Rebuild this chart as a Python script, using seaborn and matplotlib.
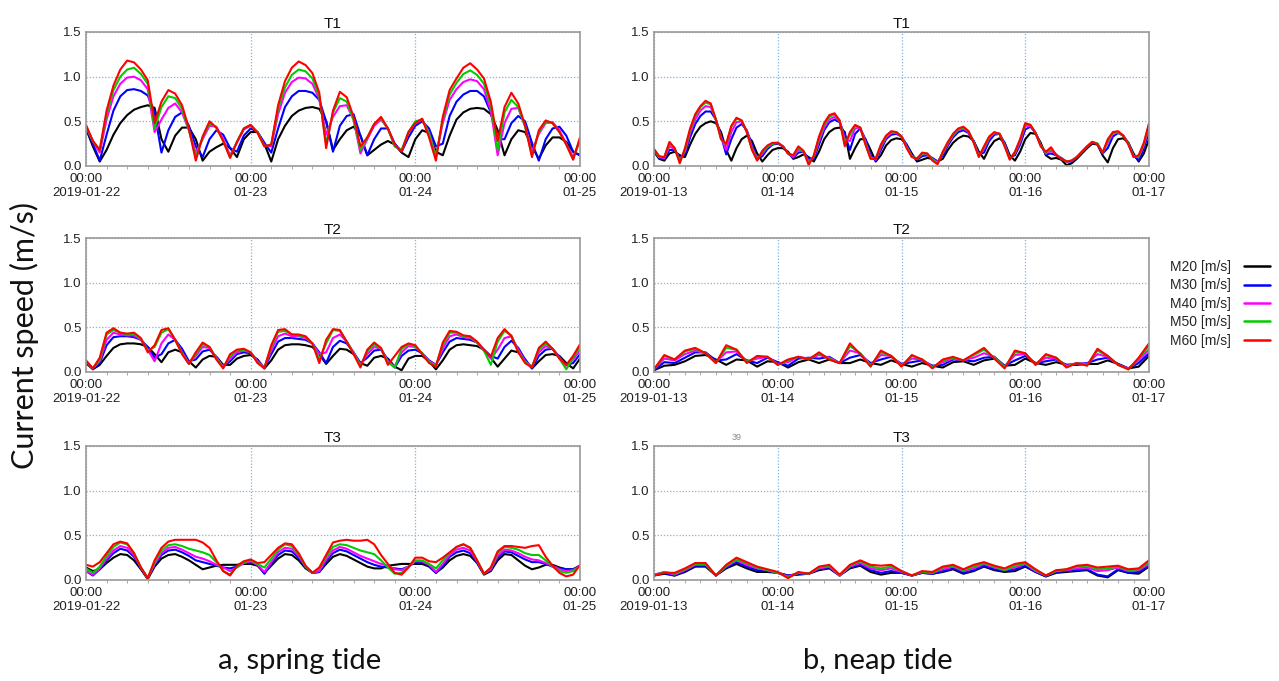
import numpy as np
import pandas as pd
import matplotlib
matplotlib.use("Agg")
import matplotlib.pyplot as plt
import matplotlib.dates as mdates
from matplotlib.lines import Line2D
import seaborn as sns

# ---------------- data ----------------
SERIES = ["M20 [m/s]", "M30 [m/s]", "M40 [m/s]", "M50 [m/s]", "M60 [m/s]"]
COLORS = ["#000000", "#0000ff", "#ff00ff", "#00cc00", "#ff0000"]
TITLES = ["T1", "T2", "T3"]
SPRING_START, SPRING_END = "2019-01-22 00:00", "2019-01-25 00:00"
NEAP_START, NEAP_END = "2019-01-13 00:00", "2019-01-17 00:00"
BOTTOM_LABELS = ["a, spring tide", "b, neap tide"]
YTICKS = [0.0, 0.5, 1.0, 1.5]

# spring tide, hourly values (2019-01-22 00:00 .. 2019-01-25 00:00)
SP_T1_M20 = [0.42,0.22,0.05,0.18,0.35,0.48,0.57,0.63,0.66,0.68,
             0.65,0.30,0.16,0.34,0.43,0.43,0.30,0.06,0.16,0.21,
             0.25,0.20,0.10,0.30,0.38,0.38,0.25,0.05,0.30,0.45,
             0.56,0.62,0.65,0.66,0.64,0.50,0.18,0.30,0.40,0.44,
             0.34,0.12,0.18,0.24,0.28,0.24,0.15,0.10,0.30,0.40,
             0.37,0.16,0.12,0.34,0.52,0.60,0.64,0.65,0.64,0.58,
             0.40,0.12,0.30,0.40,0.38,0.22,0.08,0.23,0.32,0.32,
             0.27,0.16,0.12]
SP_T1_M30 = [0.42,0.25,0.06,0.35,0.62,0.78,0.85,0.86,0.84,0.79,
             0.60,0.15,0.40,0.55,0.60,0.45,0.22,0.10,0.30,0.40,
             0.35,0.20,0.16,0.34,0.42,0.38,0.26,0.15,0.42,0.66,
             0.78,0.84,0.84,0.82,0.74,0.50,0.16,0.45,0.56,0.58,
             0.34,0.12,0.30,0.42,0.42,0.25,0.16,0.32,0.45,0.50,
             0.42,0.22,0.25,0.56,0.72,0.80,0.84,0.84,0.78,0.60,
             0.30,0.30,0.48,0.56,0.50,0.26,0.06,0.30,0.42,0.44,
             0.34,0.16,0.12]
SP_T1_M40 = [0.44,0.28,0.15,0.52,0.78,0.92,0.99,1.00,0.96,0.86,
             0.38,0.52,0.65,0.70,0.60,0.40,0.15,0.30,0.45,0.44,
             0.30,0.12,0.26,0.41,0.45,0.38,0.23,0.22,0.58,0.82,
             0.94,0.99,0.98,0.92,0.75,0.35,0.55,0.67,0.68,0.52,
             0.14,0.30,0.45,0.52,0.42,0.22,0.17,0.37,0.48,0.52,
             0.37,0.12,0.48,0.74,0.86,0.94,0.97,0.95,0.86,0.62,
             0.12,0.48,0.64,0.65,0.45,0.16,0.36,0.48,0.49,0.40,
             0.25,0.10,0.28]
SP_T1_M50 = [0.44,0.28,0.18,0.58,0.85,1.00,1.08,1.10,1.03,0.92,
             0.42,0.66,0.78,0.76,0.64,0.40,0.10,0.32,0.48,0.43,
             0.28,0.10,0.27,0.42,0.46,0.38,0.22,0.24,0.64,0.88,
             1.02,1.08,1.06,0.98,0.78,0.25,0.60,0.76,0.72,0.52,
             0.18,0.32,0.47,0.53,0.42,0.22,0.18,0.38,0.50,0.52,
             0.36,0.10,0.52,0.80,0.93,1.03,1.07,1.02,0.92,0.68,
             0.18,0.60,0.74,0.66,0.44,0.12,0.38,0.50,0.48,0.38,
             0.24,0.08,0.30]
SP_T1_M60 = [0.46,0.28,0.18,0.62,0.90,1.08,1.18,1.16,1.08,0.96,
             0.48,0.72,0.85,0.81,0.68,0.42,0.06,0.33,0.50,0.43,
             0.28,0.09,0.27,0.42,0.46,0.37,0.22,0.24,0.68,0.95,
             1.10,1.17,1.13,1.04,0.82,0.20,0.62,0.83,0.77,0.55,
             0.22,0.32,0.47,0.55,0.42,0.24,0.16,0.38,0.48,0.53,
             0.32,0.06,0.55,0.85,0.98,1.10,1.15,1.08,0.98,0.72,
             0.28,0.66,0.82,0.70,0.45,0.10,0.40,0.51,0.48,0.38,
             0.24,0.07,0.32]

SP_T2_M20 = [0.10,0.03,0.08,0.18,0.27,0.31,0.32,0.32,0.31,0.28,
             0.20,0.11,0.22,0.25,0.22,0.12,0.05,0.14,0.18,0.17,
             0.08,0.08,0.15,0.18,0.19,0.14,0.04,0.13,0.25,0.30,
             0.31,0.31,0.30,0.28,0.20,0.09,0.18,0.26,0.25,0.20,
             0.10,0.07,0.16,0.18,0.15,0.06,0.02,0.15,0.18,0.18,
             0.12,0.03,0.13,0.25,0.30,0.31,0.30,0.29,0.25,0.16,
             0.06,0.15,0.24,0.22,0.14,0.04,0.12,0.19,0.20,0.18,
             0.10,0.04,0.15]
SP_T2_M30 = [0.11,0.04,0.10,0.30,0.39,0.40,0.40,0.39,0.36,0.28,
             0.16,0.20,0.32,0.36,0.26,0.12,0.14,0.23,0.25,0.17,
             0.06,0.12,0.20,0.22,0.21,0.13,0.05,0.20,0.34,0.38,
             0.38,0.37,0.36,0.32,0.22,0.10,0.28,0.35,0.32,0.22,
             0.10,0.16,0.24,0.25,0.14,0.05,0.18,0.24,0.25,0.21,
             0.13,0.08,0.22,0.34,0.38,0.37,0.36,0.33,0.25,0.18,
             0.15,0.28,0.35,0.27,0.14,0.04,0.18,0.25,0.26,0.17,
             0.08,0.10,0.20]
SP_T2_M40 = [0.12,0.04,0.12,0.36,0.44,0.42,0.41,0.41,0.36,0.25,
             0.12,0.32,0.42,0.36,0.22,0.10,0.18,0.28,0.27,0.16,
             0.06,0.15,0.22,0.24,0.22,0.12,0.05,0.24,0.40,0.43,
             0.40,0.40,0.38,0.32,0.20,0.22,0.38,0.42,0.34,0.22,
             0.08,0.20,0.28,0.26,0.12,0.06,0.22,0.29,0.28,0.21,
             0.12,0.08,0.26,0.40,0.42,0.39,0.38,0.33,0.24,0.15,
             0.25,0.38,0.40,0.25,0.12,0.06,0.22,0.29,0.26,0.16,
             0.07,0.14,0.24]
SP_T2_M50 = [0.12,0.04,0.14,0.42,0.47,0.44,0.42,0.43,0.37,0.24,
             0.28,0.44,0.48,0.36,0.21,0.09,0.20,0.31,0.28,0.15,
             0.05,0.18,0.24,0.25,0.22,0.11,0.05,0.28,0.45,0.46,
             0.42,0.41,0.39,0.32,0.14,0.32,0.47,0.46,0.34,0.21,
             0.07,0.23,0.31,0.26,0.11,0.05,0.26,0.31,0.29,0.21,
             0.11,0.07,0.30,0.44,0.44,0.40,0.39,0.33,0.24,0.08,
             0.34,0.46,0.41,0.23,0.11,0.06,0.25,0.32,0.26,0.15,
             0.03,0.16,0.28]
SP_T2_M60 = [0.13,0.04,0.16,0.44,0.49,0.44,0.43,0.44,0.38,0.22,
             0.30,0.47,0.49,0.36,0.20,0.09,0.22,0.33,0.28,0.14,
             0.04,0.20,0.25,0.26,0.22,0.10,0.04,0.30,0.47,0.48,
             0.42,0.42,0.40,0.32,0.10,0.36,0.48,0.47,0.34,0.20,
             0.05,0.25,0.33,0.27,0.08,0.18,0.28,0.32,0.30,0.20,
             0.10,0.06,0.33,0.46,0.45,0.41,0.40,0.34,0.25,0.17,
             0.38,0.48,0.40,0.22,0.10,0.05,0.27,0.34,0.26,0.15,
             0.08,0.18,0.31]

SP_T3_M20 = [0.14,0.10,0.12,0.19,0.25,0.29,0.28,0.22,0.12,0.01,
             0.15,0.24,0.28,0.29,0.26,0.22,0.17,0.12,0.14,0.16,
             0.17,0.17,0.17,0.18,0.18,0.16,0.08,0.16,0.24,0.29,
             0.28,0.22,0.13,0.08,0.09,0.18,0.26,0.29,0.27,0.23,
             0.19,0.15,0.13,0.13,0.16,0.17,0.18,0.18,0.18,0.18,
             0.15,0.08,0.14,0.22,0.27,0.29,0.27,0.19,0.06,0.10,
             0.22,0.29,0.28,0.22,0.16,0.12,0.14,0.17,0.17,0.14,
             0.12,0.12,0.16]
SP_T3_M30 = [0.10,0.05,0.12,0.22,0.30,0.35,0.33,0.26,0.13,0.02,
             0.17,0.28,0.33,0.34,0.31,0.27,0.22,0.20,0.18,0.16,
             0.14,0.13,0.15,0.19,0.20,0.17,0.07,0.18,0.28,0.33,
             0.32,0.25,0.14,0.08,0.09,0.21,0.30,0.34,0.32,0.28,
             0.24,0.20,0.17,0.15,0.14,0.13,0.12,0.15,0.20,0.20,
             0.16,0.08,0.16,0.26,0.31,0.33,0.30,0.20,0.07,0.11,
             0.25,0.32,0.31,0.27,0.23,0.20,0.20,0.18,0.15,0.13,
             0.12,0.12,0.16]
SP_T3_M40 = [0.10,0.06,0.13,0.24,0.33,0.38,0.36,0.28,0.14,0.02,
             0.18,0.30,0.36,0.37,0.34,0.30,0.26,0.24,0.21,0.17,
             0.14,0.10,0.14,0.19,0.21,0.17,0.09,0.20,0.31,0.36,
             0.35,0.27,0.15,0.08,0.10,0.23,0.33,0.37,0.35,0.31,
             0.27,0.24,0.21,0.18,0.16,0.12,0.11,0.15,0.21,0.21,
             0.17,0.09,0.18,0.28,0.34,0.36,0.33,0.21,0.07,0.12,
             0.27,0.34,0.33,0.30,0.26,0.23,0.22,0.19,0.16,0.12,
             0.10,0.11,0.16]
SP_T3_M50 = [0.13,0.08,0.15,0.27,0.37,0.42,0.40,0.30,0.14,0.02,
             0.20,0.33,0.39,0.40,0.38,0.35,0.33,0.31,0.28,0.20,
             0.10,0.06,0.15,0.20,0.22,0.18,0.14,0.24,0.34,0.40,
             0.38,0.29,0.15,0.08,0.13,0.26,0.37,0.40,0.39,0.36,
             0.33,0.31,0.29,0.22,0.14,0.07,0.08,0.15,0.22,0.22,
             0.18,0.13,0.22,0.30,0.37,0.40,0.36,0.22,0.07,0.13,
             0.30,0.37,0.36,0.34,0.30,0.28,0.28,0.22,0.15,0.10,
             0.08,0.10,0.16]
SP_T3_M60 = [0.17,0.15,0.20,0.30,0.40,0.43,0.41,0.30,0.14,0.02,
             0.22,0.36,0.43,0.45,0.45,0.45,0.45,0.42,0.36,0.22,
             0.10,0.05,0.16,0.21,0.23,0.19,0.20,0.28,0.36,0.41,
             0.40,0.30,0.16,0.08,0.14,0.28,0.42,0.44,0.45,0.44,
             0.44,0.45,0.40,0.28,0.18,0.08,0.06,0.14,0.25,0.25,
             0.21,0.20,0.25,0.31,0.37,0.40,0.36,0.22,0.07,0.14,
             0.32,0.38,0.38,0.37,0.36,0.38,0.39,0.26,0.16,0.08,
             0.04,0.06,0.17]

# neap tide T1, hourly values (2019-01-13 00:00 .. 2019-01-17 00:00)
NP_T1_M20 = [0.16,0.08,0.06,0.14,0.16,0.12,0.10,0.24,0.36,0.44,
             0.48,0.50,0.48,0.38,0.18,0.06,0.20,0.30,0.34,0.28,
             0.14,0.05,0.12,0.18,0.20,0.20,0.16,0.08,0.10,0.13,
             0.10,0.05,0.16,0.30,0.38,0.42,0.43,0.38,0.08,0.20,
             0.30,0.30,0.18,0.05,0.12,0.23,0.29,0.31,0.30,0.24,
             0.14,0.05,0.07,0.09,0.08,0.05,0.08,0.18,0.26,0.31,
             0.34,0.33,0.28,0.16,0.08,0.20,0.28,0.31,0.26,0.12,
             0.06,0.16,0.30,0.37,0.36,0.26,0.12,0.08,0.09,0.07,
             0.01,0.03,0.08,0.14,0.20,0.25,0.24,0.12,0.04,0.20,
             0.30,0.31,0.26,0.14,0.05,0.14,0.30]
NP_T1_M30 = [0.17,0.09,0.08,0.18,0.18,0.09,0.13,0.32,0.47,0.56,
             0.61,0.61,0.52,0.34,0.13,0.30,0.43,0.47,0.40,0.24,
             0.08,0.11,0.19,0.24,0.25,0.22,0.14,0.09,0.15,0.16,
             0.08,0.08,0.24,0.40,0.49,0.52,0.49,0.35,0.18,0.36,
             0.42,0.30,0.12,0.06,0.18,0.30,0.35,0.36,0.33,0.24,
             0.12,0.07,0.11,0.12,0.09,0.05,0.12,0.23,0.32,0.38,
             0.40,0.37,0.28,0.13,0.15,0.28,0.35,0.36,0.26,0.10,
             0.12,0.24,0.41,0.44,0.37,0.24,0.13,0.14,0.12,0.09,
             0.05,0.05,0.09,0.15,0.21,0.26,0.25,0.14,0.20,0.33,
             0.37,0.34,0.26,0.12,0.06,0.20,0.38]
NP_T1_M40 = [0.18,0.10,0.09,0.22,0.19,0.07,0.16,0.37,0.52,0.62,
             0.67,0.66,0.52,0.32,0.18,0.38,0.49,0.50,0.39,0.21,
             0.08,0.14,0.21,0.25,0.26,0.22,0.14,0.10,0.18,0.16,
             0.05,0.10,0.28,0.43,0.52,0.55,0.50,0.30,0.28,0.42,
             0.43,0.27,0.10,0.07,0.21,0.32,0.37,0.37,0.33,0.22,
             0.11,0.08,0.13,0.13,0.08,0.04,0.14,0.25,0.34,0.40,
             0.42,0.38,0.27,0.12,0.19,0.31,0.37,0.36,0.24,0.08,
             0.14,0.27,0.45,0.45,0.37,0.23,0.14,0.17,0.13,0.08,
             0.05,0.06,0.10,0.16,0.22,0.27,0.25,0.15,0.26,0.36,
             0.38,0.34,0.25,0.11,0.10,0.23,0.43]
NP_T1_M50 = [0.18,0.10,0.10,0.25,0.20,0.05,0.18,0.40,0.56,0.66,
             0.71,0.69,0.52,0.30,0.24,0.44,0.53,0.51,0.38,0.19,
             0.07,0.16,0.22,0.25,0.26,0.22,0.14,0.12,0.20,0.16,
             0.03,0.11,0.31,0.46,0.55,0.58,0.51,0.25,0.35,0.45,
             0.43,0.25,0.09,0.08,0.23,0.33,0.38,0.38,0.33,0.21,
             0.11,0.08,0.14,0.14,0.07,0.03,0.15,0.26,0.35,0.41,
             0.43,0.39,0.27,0.11,0.21,0.32,0.37,0.36,0.23,0.08,
             0.15,0.29,0.47,0.46,0.37,0.23,0.15,0.19,0.13,0.08,
             0.05,0.06,0.10,0.16,0.22,0.27,0.25,0.15,0.28,0.37,
             0.38,0.34,0.25,0.11,0.11,0.25,0.46]
NP_T1_M60 = [0.19,0.11,0.10,0.27,0.20,0.03,0.20,0.42,0.58,0.67,
             0.73,0.70,0.52,0.30,0.25,0.45,0.54,0.51,0.38,0.18,
             0.06,0.17,0.23,0.26,0.26,0.22,0.14,0.12,0.22,0.17,
             0.01,0.12,0.33,0.48,0.57,0.59,0.51,0.22,0.38,0.46,
             0.43,0.24,0.08,0.08,0.24,0.34,0.39,0.38,0.33,0.20,
             0.10,0.08,0.15,0.14,0.06,0.02,0.16,0.27,0.36,0.42,
             0.44,0.39,0.26,0.10,0.22,0.33,0.38,0.36,0.22,0.07,
             0.16,0.30,0.48,0.46,0.37,0.22,0.16,0.21,0.12,0.08,
             0.05,0.06,0.10,0.16,0.22,0.27,0.24,0.15,0.30,0.38,
             0.39,0.34,0.24,0.10,0.12,0.26,0.48]

# neap tide T2 / T3, two-hourly values
NP_T2_M20 = [0.02,0.07,0.08,0.12,0.18,0.19,0.14,0.08,0.14,0.13,
             0.06,0.12,0.11,0.05,0.11,0.14,0.10,0.14,0.10,0.10,
             0.14,0.10,0.08,0.13,0.09,0.06,0.10,0.07,0.05,0.11,
             0.12,0.08,0.13,0.15,0.07,0.08,0.15,0.10,0.08,0.11,
             0.08,0.08,0.09,0.09,0.13,0.09,0.04,0.06,0.18]
NP_T2_M30 = [0.02,0.11,0.10,0.16,0.22,0.22,0.13,0.14,0.20,0.13,
             0.10,0.16,0.11,0.07,0.15,0.16,0.15,0.17,0.10,0.16,
             0.19,0.10,0.14,0.17,0.09,0.11,0.13,0.07,0.08,0.14,
             0.13,0.12,0.16,0.17,0.07,0.13,0.18,0.10,0.12,0.14,
             0.08,0.09,0.10,0.14,0.16,0.09,0.04,0.10,0.21]
NP_T2_M40 = [0.03,0.15,0.13,0.20,0.24,0.21,0.11,0.22,0.23,0.12,
             0.15,0.17,0.09,0.11,0.17,0.15,0.19,0.16,0.10,0.24,
             0.21,0.08,0.19,0.18,0.08,0.15,0.14,0.06,0.11,0.15,
             0.13,0.16,0.21,0.17,0.06,0.19,0.20,0.09,0.16,0.15,
             0.07,0.10,0.09,0.20,0.17,0.08,0.04,0.13,0.25]
NP_T2_M50 = [0.03,0.18,0.14,0.23,0.26,0.21,0.10,0.27,0.25,0.11,
             0.17,0.17,0.08,0.13,0.17,0.14,0.21,0.15,0.10,0.29,
             0.21,0.07,0.22,0.18,0.07,0.18,0.14,0.05,0.13,0.16,
             0.13,0.19,0.25,0.16,0.05,0.22,0.21,0.08,0.19,0.16,
             0.06,0.10,0.08,0.24,0.18,0.08,0.03,0.15,0.29]
NP_T2_M60 = [0.03,0.19,0.14,0.24,0.27,0.21,0.10,0.30,0.25,0.10,
             0.18,0.17,0.08,0.14,0.17,0.14,0.22,0.14,0.10,0.32,
             0.20,0.06,0.24,0.18,0.06,0.19,0.14,0.04,0.14,0.17,
             0.13,0.20,0.27,0.15,0.04,0.24,0.21,0.08,0.20,0.16,
             0.05,0.10,0.07,0.26,0.18,0.08,0.03,0.16,0.32]

NP_T3_M20 = [0.05,0.07,0.05,0.09,0.15,0.15,0.05,0.13,0.18,0.13,
             0.09,0.09,0.08,0.05,0.06,0.07,0.11,0.13,0.05,0.13,
             0.16,0.09,0.06,0.08,0.08,0.05,0.08,0.07,0.09,0.12,
             0.07,0.10,0.15,0.11,0.09,0.10,0.15,0.09,0.04,0.08,
             0.09,0.10,0.11,0.05,0.03,0.11,0.08,0.07,0.15]
NP_T3_M30 = [0.06,0.08,0.05,0.10,0.16,0.16,0.05,0.14,0.20,0.15,
             0.11,0.10,0.08,0.05,0.07,0.07,0.12,0.14,0.05,0.14,
             0.17,0.11,0.08,0.10,0.08,0.05,0.08,0.07,0.10,0.13,
             0.08,0.11,0.16,0.12,0.10,0.12,0.16,0.09,0.04,0.09,
             0.10,0.11,0.12,0.06,0.04,0.12,0.08,0.09,0.16]
NP_T3_M40 = [0.06,0.09,0.06,0.11,0.17,0.17,0.05,0.15,0.22,0.17,
             0.13,0.11,0.08,0.04,0.08,0.07,0.13,0.15,0.05,0.15,
             0.19,0.13,0.11,0.13,0.09,0.05,0.09,0.08,0.12,0.15,
             0.10,0.13,0.18,0.14,0.11,0.14,0.18,0.10,0.05,0.10,
             0.11,0.13,0.14,0.10,0.11,0.14,0.10,0.11,0.18]
NP_T3_M50 = [0.05,0.09,0.07,0.12,0.18,0.18,0.05,0.16,0.23,0.19,
             0.14,0.11,0.08,0.03,0.08,0.07,0.14,0.16,0.05,0.16,
             0.21,0.15,0.13,0.15,0.10,0.05,0.09,0.08,0.14,0.16,
             0.11,0.15,0.19,0.15,0.11,0.16,0.19,0.11,0.05,0.10,
             0.12,0.15,0.16,0.12,0.13,0.15,0.11,0.12,0.20]
NP_T3_M60 = [0.05,0.08,0.08,0.13,0.19,0.19,0.05,0.17,0.25,0.20,
             0.15,0.12,0.09,0.02,0.09,0.07,0.15,0.17,0.06,0.17,
             0.22,0.17,0.16,0.17,0.10,0.05,0.10,0.09,0.15,0.17,
             0.12,0.17,0.20,0.16,0.13,0.18,0.20,0.12,0.05,0.11,
             0.12,0.16,0.17,0.14,0.15,0.16,0.12,0.13,0.22]

# ---------------- styling ----------------
sns.set_style("white")
plt.rcParams["font.family"] = ["Liberation Sans", "DejaVu Sans"]

W, H = 1279, 681
fig = plt.figure(figsize=(W / 100, H / 100), dpi=100)

def frac_box(x0, x1, ytop, ybot):
    return [x0 / W, 1 - ybot / H, (x1 - x0) / W, (ybot - ytop) / H]

col_x = [(86, 580), (654, 1149)]
row_y = [(32, 166), (238, 372), (446, 580)]

panels = [
    (0, 0, SPRING_START, SPRING_END, "1h", [SP_T1_M20, SP_T1_M30, SP_T1_M40, SP_T1_M50, SP_T1_M60]),
    (0, 1, SPRING_START, SPRING_END, "1h", [SP_T2_M20, SP_T2_M30, SP_T2_M40, SP_T2_M50, SP_T2_M60]),
    (0, 2, SPRING_START, SPRING_END, "1h", [SP_T3_M20, SP_T3_M30, SP_T3_M40, SP_T3_M50, SP_T3_M60]),
    (1, 0, NEAP_START, NEAP_END, "1h", [NP_T1_M20, NP_T1_M30, NP_T1_M40, NP_T1_M50, NP_T1_M60]),
    (1, 1, NEAP_START, NEAP_END, "2h", [NP_T2_M20, NP_T2_M30, NP_T2_M40, NP_T2_M50, NP_T2_M60]),
    (1, 2, NEAP_START, NEAP_END, "2h", [NP_T3_M20, NP_T3_M30, NP_T3_M40, NP_T3_M50, NP_T3_M60]),
]

palette = dict(zip(SERIES, COLORS))
grid_color = "#7db4e6"
spine_color = "#9a9a9a"

for col, row, start, end, freq, lists in panels:
    x0, x1 = col_x[col]
    yt, yb = row_y[row]
    ax = fig.add_axes(frac_box(x0, x1, yt, yb))
    expected = len(pd.date_range(start, end, freq=freq))
    frames = []
    for name, vals in zip(SERIES, lists):
        assert len(vals) == expected, (start, row, name, len(vals), expected)
        t = pd.date_range(start, periods=len(vals), freq=freq)
        frames.append(pd.DataFrame({"time": t, "speed": vals, "series": name}))
    df = pd.concat(frames, ignore_index=True)
    sns.lineplot(data=df, x="time", y="speed", hue="series", hue_order=SERIES,
                 palette=palette, legend=False, ax=ax, linewidth=1.5,
                 estimator=None, sort=False)
    days = pd.date_range(start, end, freq="D")
    dnum = mdates.date2num(days.to_pydatetime())
    ax.set_xlim(dnum[0], dnum[-1])
    ax.set_ylim(0, 1.5)
    labels = ["00:00\n" + (d.strftime("%Y-%m-%d") if i == 0 else d.strftime("%m-%d"))
              for i, d in enumerate(days)]
    ax.set_xticks(dnum)
    ax.set_xticklabels(labels)
    ax.xaxis.set_minor_locator(mdates.HourLocator(byhour=range(0, 24, 3)))
    ax.set_yticks(YTICKS)
    ax.set_yticklabels([f"{v:.1f}" for v in YTICKS])
    ax.set_xlabel("")
    ax.set_ylabel("")
    ax.grid(True, which="major", color=grid_color, linestyle=(0, (1, 1.5)), linewidth=0.9)
    ax.set_axisbelow(True)
    for s in ax.spines.values():
        s.set_color(spine_color)
        s.set_linewidth(1.2)
    ax.tick_params(axis="x", which="major", length=3, color=spine_color,
                   labelsize=9.5, pad=2, labelcolor="#222222")
    ax.tick_params(axis="x", which="minor", length=2, color=spine_color, bottom=True)
    ax.tick_params(axis="y", which="major", length=0, labelsize=9.5, pad=3,
                   labelcolor="#222222")
    ax.set_title(TITLES[row], fontsize=11, pad=3, color="#111111")

# legend (label before line)
handles = [Line2D([], [], color=c, lw=1.8) for c in COLORS]
fig.legend(handles, SERIES, loc="upper left", bbox_to_anchor=(1170 / W, 1 - 260 / H),
           frameon=False, markerfirst=False, fontsize=10, handlelength=1.9,
           handletextpad=0.9, labelspacing=0.32, borderaxespad=0, borderpad=0)

fig.text(24 / W, 1 - 335 / H, "Current speed (m/s)", rotation=90, fontsize=22,
         family=["Lato", "DejaVu Sans"], va="center", ha="center", color="#111111")
fig.text(300 / W, 1 - 661 / H, BOTTOM_LABELS[0], fontsize=21,
         family=["Lato", "DejaVu Sans"], va="center", ha="center", color="#111111")
fig.text(878 / W, 1 - 661 / H, BOTTOM_LABELS[1], fontsize=21,
         family=["Lato", "DejaVu Sans"], va="center", ha="center", color="#111111")
fig.text(737 / W, 1 - 437 / H, "39", fontsize=6.5, color="#8a8a8a", va="center", ha="center")

fig.savefig("out.png", dpi=100, facecolor="white")
